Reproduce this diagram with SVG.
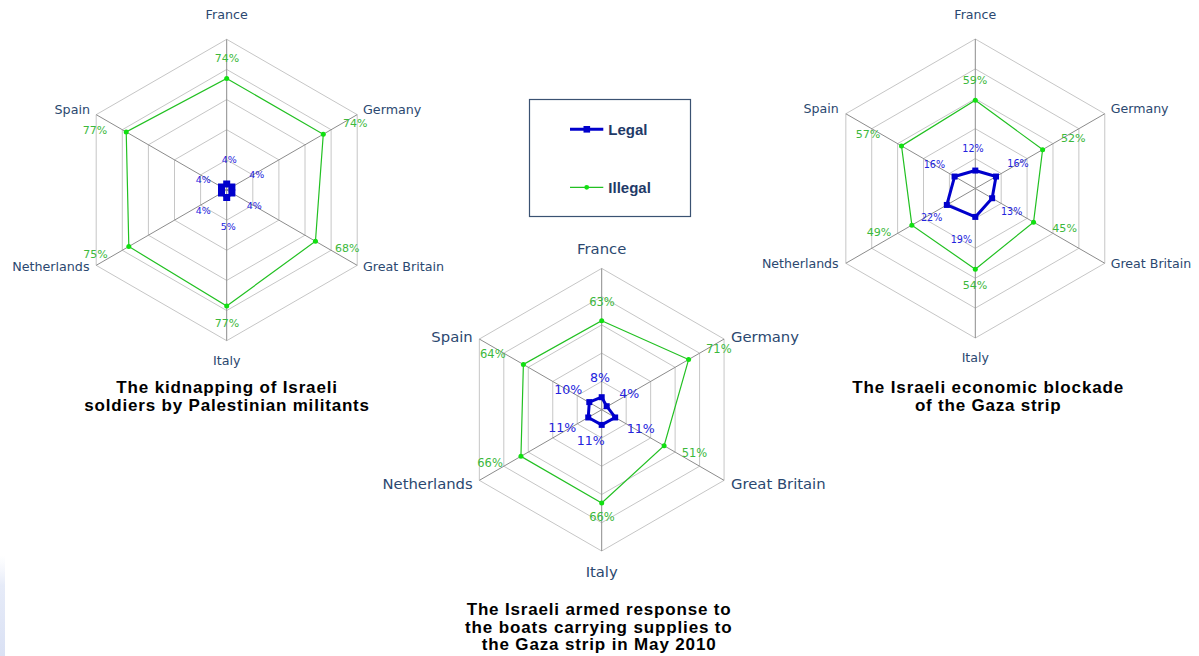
<svg xmlns="http://www.w3.org/2000/svg" width="1199" height="656" viewBox="0 0 1199 656">
<style>
.ring{fill:none;stroke:#c6c6c6;stroke-width:1}
.spoke{fill:none;stroke:#8c8c8c;stroke-width:1}
.ill{fill:none;stroke:#22c022;stroke-width:1.2}
.dot{fill:#11e011}
.leg{fill:none;stroke:#0000cc;stroke-width:3;stroke-linejoin:round}
.sq{fill:#0000cc}
.cat{font-family:"DejaVu Sans",Verdana,sans-serif;fill:#2b4870}
.gp{font-family:"DejaVu Sans",Verdana,sans-serif;fill:#3cb83c}
.bp{font-family:"DejaVu Sans",Verdana,sans-serif;fill:#2323dd}
.title{font-family:"Liberation Sans",Arial,sans-serif;font-weight:bold;font-size:17px;fill:#000;text-anchor:middle}
.lt{font-family:"Liberation Sans",Arial,sans-serif;font-weight:bold;font-size:15px;fill:#1f3a68}
</style>
<defs>
<linearGradient id="edge" x1="0" y1="0" x2="0" y2="1">
<stop offset="0" stop-color="#eef1fa" stop-opacity="0"/>
<stop offset="0.3" stop-color="#e6ebf8"/>
<stop offset="1" stop-color="#dae1f4"/>
</linearGradient>
</defs>
<rect width="1199" height="656" fill="#fff"/>
<rect x="0" y="555" width="5" height="101" fill="url(#edge)"/>

<!-- Chart 1 -->
<g id="chart-kidnapping">
<g transform="translate(226.7,190)">
<polygon class="ring" points="0,-30.14 26.1,-15.07 26.1,15.07 0,30.14 -26.1,15.07 -26.1,-15.07"/>
<polygon class="ring" points="0,-60.28 52.2,-30.14 52.2,30.14 0,60.28 -52.2,30.14 -52.2,-30.14"/>
<polygon class="ring" points="0,-90.42 78.3,-45.21 78.3,45.21 0,90.42 -78.3,45.21 -78.3,-45.21"/>
<polygon class="ring" points="0,-120.56 104.41,-60.28 104.41,60.28 0,120.56 -104.41,60.28 -104.41,-60.28"/>
<polygon class="ring" points="0,-150.7 130.51,-75.35 130.51,75.35 0,150.7 -130.51,75.35 -130.51,-75.35"/>
<path class="spoke" d="M0,0V-150.7M0,0L130.51,-75.35M0,0L130.51,75.35M0,0V150.7M0,0L-130.51,75.35M0,0L-130.51,-75.35"/>
<polygon class="ill" points="0,-111.52 96.58,-55.76 88.75,51.24 0,116.04 -97.88,56.51 -100.49,-58.02"/>
<g class="dot"><circle cx="0" cy="-111.52" r="2.5"/><circle cx="96.58" cy="-55.76" r="2.5"/><circle cx="88.75" cy="51.24" r="2.5"/><circle cx="0" cy="116.04" r="2.5"/><circle cx="-97.88" cy="56.51" r="2.5"/><circle cx="-100.49" cy="-58.02" r="2.5"/></g>
<polygon class="leg" points="0,-6.03 5.22,-3.01 5.22,3.01 0,7.54 -5.22,3.01 -5.22,-3.01"/>
<g class="sq"><rect x="-3.5" y="-9.5" width="7" height="7"/><rect x="1.7" y="-6.5" width="7" height="7"/><rect x="1.7" y="-0.5" width="7" height="7"/><rect x="-3.5" y="4" width="7" height="7"/><rect x="-8.7" y="-0.5" width="7" height="7"/><rect x="-8.7" y="-6.5" width="7" height="7"/></g>
</g>
<g class="cat" font-size="12.7">
<text x="226.7" y="18.5" text-anchor="middle">France</text>
<text x="90" y="114" text-anchor="end">Spain</text>
<text x="363" y="114">Germany</text>
<text x="89.5" y="270.5" text-anchor="end">Netherlands</text>
<text x="363" y="270.5">Great Britain</text>
<text x="226.7" y="365" text-anchor="middle">Italy</text>
</g>
<g class="gp" font-size="11">
<text x="227" y="61.7" text-anchor="middle">74%</text>
<text x="343" y="126.7">74%</text>
<text x="335" y="252.3">68%</text>
<text x="227" y="326.7" text-anchor="middle">77%</text>
<text x="83.3" y="258.3">75%</text>
<text x="82.7" y="134.3">77%</text>
</g>
<g class="bp" font-size="9.5">
<text x="221.7" y="162.7">4%</text>
<text x="249.3" y="178.3">4%</text>
<text x="246.7" y="209.3">4%</text>
<text x="220.7" y="230">5%</text>
<text x="195.7" y="214.3">4%</text>
<text x="195.7" y="183.3">4%</text>
</g>
<text class="title" x="226.7" y="393" textLength="220.7">The kidnapping of Israeli</text>
<text class="title" x="226.7" y="411" textLength="284.7">soldiers by Palestinian militants</text>
</g>

<!-- Chart 2 -->
<g id="chart-armed-response">
<g transform="translate(601.7,409.7)">
<polygon class="ring" points="0,-28.26 24.47,-14.13 24.47,14.13 0,28.26 -24.47,14.13 -24.47,-14.13"/>
<polygon class="ring" points="0,-56.52 48.95,-28.26 48.95,28.26 0,56.52 -48.95,28.26 -48.95,-28.26"/>
<polygon class="ring" points="0,-84.78 73.42,-42.39 73.42,42.39 0,84.78 -73.42,42.39 -73.42,-42.39"/>
<polygon class="ring" points="0,-113.04 97.89,-56.52 97.89,56.52 0,113.04 -97.89,56.52 -97.89,-56.52"/>
<polygon class="ring" points="0,-141.3 122.37,-70.65 122.37,70.65 0,141.3 -122.37,70.65 -122.37,-70.65"/>
<path class="spoke" d="M0,0V-141.3M0,0L122.37,-70.65M0,0L122.37,70.65M0,0V141.3M0,0L-122.37,70.65M0,0L-122.37,-70.65"/>
<polygon class="ill" points="0,-89.02 86.88,-50.16 62.41,36.03 0,93.26 -80.76,46.63 -78.31,-45.22"/>
<g class="dot"><circle cx="0" cy="-89.02" r="2.5"/><circle cx="86.88" cy="-50.16" r="2.5"/><circle cx="62.41" cy="36.03" r="2.5"/><circle cx="0" cy="93.26" r="2.5"/><circle cx="-80.76" cy="46.63" r="2.5"/><circle cx="-78.31" cy="-45.22" r="2.5"/></g>
<polygon class="leg" points="0,-12.5 5,-3.5 13.46,7.77 0,15.2 -13.46,7.77 -12.4,-7.6"/>
<g class="sq"><rect x="-3" y="-15.5" width="6" height="6"/><rect x="2" y="-6.5" width="6" height="6"/><rect x="10.46" y="4.77" width="6" height="6"/><rect x="-3" y="12.2" width="6" height="6"/><rect x="-16.46" y="4.77" width="6" height="6"/><rect x="-15.4" y="-10.6" width="6" height="6"/></g>
</g>
<g class="cat" font-size="14.8">
<text x="601.7" y="254" text-anchor="middle">France</text>
<text x="472.7" y="342.3" text-anchor="end">Spain</text>
<text x="731" y="342.3">Germany</text>
<text x="472.7" y="489" text-anchor="end">Netherlands</text>
<text x="731" y="489">Great Britain</text>
<text x="601.7" y="576.7" text-anchor="middle">Italy</text>
</g>
<g class="gp" font-size="11.5">
<text x="602" y="306" text-anchor="middle">63%</text>
<text x="706" y="353.3">71%</text>
<text x="681.7" y="456.7">51%</text>
<text x="602" y="521" text-anchor="middle">66%</text>
<text x="477.3" y="467.3">66%</text>
<text x="480" y="358.3">64%</text>
</g>
<g class="bp" font-size="12.6">
<text x="590" y="381.7">8%</text>
<text x="619.3" y="398.3">4%</text>
<text x="626.7" y="432.7">11%</text>
<text x="576.7" y="445">11%</text>
<text x="548.3" y="432.3">11%</text>
<text x="554.3" y="394.3">10%</text>
</g>
<text class="title" x="598.7" y="615" textLength="264">The Israeli armed response to</text>
<text class="title" x="598.4" y="632.5" textLength="266.7">the boats carrying supplies to</text>
<text class="title" x="598.7" y="650" textLength="234">the Gaza strip in May 2010</text>
</g>

<!-- Chart 3 -->
<g id="chart-blockade">
<g transform="translate(975.3,188.5)">
<polygon class="ring" points="0,-29.9 25.89,-14.95 25.89,14.95 0,29.9 -25.89,14.95 -25.89,-14.95"/>
<polygon class="ring" points="0,-59.8 51.79,-29.9 51.79,29.9 0,59.8 -51.79,29.9 -51.79,-29.9"/>
<polygon class="ring" points="0,-89.7 77.68,-44.85 77.68,44.85 0,89.7 -77.68,44.85 -77.68,-44.85"/>
<polygon class="ring" points="0,-119.6 103.57,-59.8 103.57,59.8 0,119.6 -103.57,59.8 -103.57,-59.8"/>
<polygon class="ring" points="0,-149.5 129.47,-74.75 129.47,74.75 0,149.5 -129.47,74.75 -129.47,-74.75"/>
<path class="spoke" d="M0,0V-149.5M0,0L129.47,-74.75M0,0L129.47,74.75M0,0V149.5M0,0L-129.47,74.75M0,0L-129.47,-74.75"/>
<polygon class="ill" points="0,-88.21 67.32,-38.87 58.26,33.64 0,80.73 -63.44,36.63 -73.8,-42.61"/>
<g class="dot"><circle cx="0" cy="-88.21" r="2.5"/><circle cx="67.32" cy="-38.87" r="2.5"/><circle cx="58.26" cy="33.64" r="2.5"/><circle cx="0" cy="80.73" r="2.5"/><circle cx="-63.44" cy="36.63" r="2.5"/><circle cx="-73.8" cy="-42.61" r="2.5"/></g>
<polygon class="leg" points="0,-17.94 20.72,-11.96 16.83,9.72 0,28.41 -28.48,16.45 -20.72,-11.96"/>
<g class="sq"><rect x="-3" y="-20.94" width="6" height="6"/><rect x="17.72" y="-14.96" width="6" height="6"/><rect x="13.83" y="6.72" width="6" height="6"/><rect x="-3" y="25.41" width="6" height="6"/><rect x="-31.48" y="13.45" width="6" height="6"/><rect x="-23.72" y="-14.96" width="6" height="6"/></g>
</g>
<g class="cat" font-size="12.6">
<text x="975.3" y="19.3" text-anchor="middle">France</text>
<text x="838.7" y="112.7" text-anchor="end">Spain</text>
<text x="1110.7" y="112.7">Germany</text>
<text x="838.7" y="267.7" text-anchor="end">Netherlands</text>
<text x="1110.7" y="267.7">Great Britain</text>
<text x="975.3" y="361.7" text-anchor="middle">Italy</text>
</g>
<g class="gp" font-size="11.1">
<text x="975" y="84" text-anchor="middle">59%</text>
<text x="1061" y="141.7">52%</text>
<text x="1052.3" y="232.3">45%</text>
<text x="975" y="289.3" text-anchor="middle">54%</text>
<text x="866.7" y="235.7">49%</text>
<text x="855.7" y="138.3">57%</text>
</g>
<g class="bp" font-size="9.6">
<text x="962.3" y="152.3">12%</text>
<text x="1007.3" y="166.7">16%</text>
<text x="1001" y="215">13%</text>
<text x="950.7" y="243.3">19%</text>
<text x="921" y="220.7">22%</text>
<text x="923.7" y="167.7">16%</text>
</g>
<text class="title" x="987.8" y="393.3" textLength="271">The Israeli economic blockade</text>
<text class="title" x="987.8" y="410.5" textLength="145.7">of the Gaza strip</text>
</g>

<!-- Legend -->
<g id="legend">
<rect x="529.5" y="99.5" width="161" height="117" fill="#fff" stroke="#3a5272" stroke-width="1.2"/>
<line x1="570" y1="129.3" x2="603.3" y2="129.3" stroke="#0000cc" stroke-width="3"/>
<rect x="583.5" y="126" width="6.6" height="6.6" fill="#0000cc"/>
<text class="lt" x="608.3" y="135">Legal</text>
<line x1="570" y1="187.3" x2="603.3" y2="187.3" stroke="#22c022" stroke-width="1.2"/>
<circle cx="586.7" cy="187.3" r="2.4" fill="#11e011"/>
<text class="lt" x="608.3" y="192.7">Illegal</text>
</g>
</svg>
